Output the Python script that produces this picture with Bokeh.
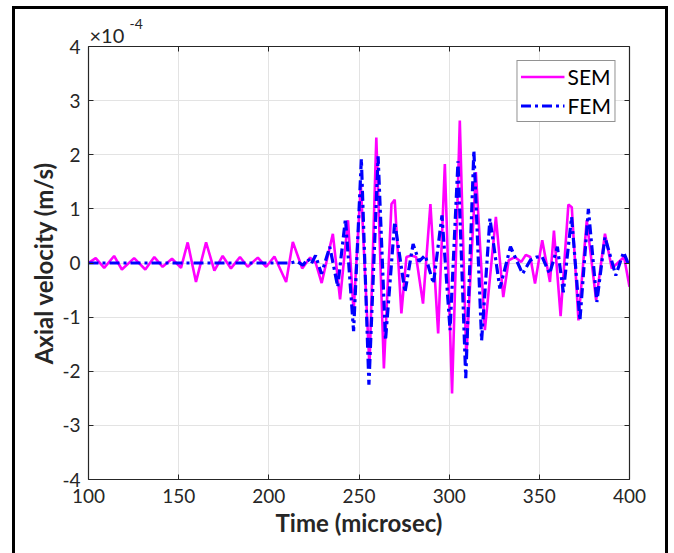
from bokeh.plotting import figure
from bokeh.models import (Range1d, LinearAxis, FixedTicker, Legend, LegendItem,
                          Title, InlineStyleSheet)
from bokeh.embed import file_html
from bokeh.resources import INLINE

# Values in units of 1e-4 m/s
sem_t = [100, 104, 108.7, 114.2, 118.5, 125.3, 131.5, 136.5, 141.1, 146.3, 151.3, 155,
         159.6, 165.2, 169.8, 174.4, 179, 184, 188.3, 193.9, 198.5, 203.1, 209.6, 213.3,
         218.5, 222.9, 226, 229.3, 235.5, 239.5, 243.9, 247, 251, 255.8, 259.6, 263.8,
         268, 269.8, 273.5, 276.3, 279, 281.7, 285.5, 289.6, 293.9, 297.6, 301.6, 305.9,
         309.5, 314.8, 319.8, 325.9, 330, 333, 336.4, 340, 342.5, 345, 347.6, 351.6,
         355.9, 358.1, 361.8, 366.1, 368, 371.7, 376.3, 381.5, 386.4, 390.2, 397, 400]
sem_v = [0.0, 0.09, -0.09, 0.13, -0.12, 0.09, -0.12, 0.11, -0.07, 0.08, -0.09, 0.38,
         -0.35, 0.38, -0.14, 0.13, -0.10, 0.11, -0.07, 0.10, -0.07, 0.12, -0.35, 0.39,
         -0.10, 0.10, 0.0, -0.37, 0.54, -0.67, 0.79, -0.90, 1.45, -1.92, 2.32, -1.95,
         1.09, 1.17, -0.93, 0.11, 0.14, 0.11, -0.75, 1.09, -1.30, 1.83, -2.41, 2.63,
         -1.75, 1.68, -1.24, 0.85, -0.63, 0.05, 0.11, 0.02, 0.15, 0.11, -0.38, 0.42,
         -0.35, 0.60, -0.98, 1.08, 1.03, -1.06, 0.79, -0.69, 0.54, -0.10, 0.11, -0.44]

fem_t = [100, 212, 215.5, 218.9, 221.7, 223.5, 225.9, 229.2, 233.8, 238.2, 242.5, 247,
         251.3, 255.5, 260.6, 264.7, 269.8, 275.5, 280, 283.3, 286.7, 291.3, 296, 300.5,
         304.9, 309.2, 313.7, 318, 322.6, 328.1, 334, 340.7, 345, 348.5, 351.5, 355.7,
         360, 363.3, 367.9, 372.5, 377.2, 381.9, 386.4, 392.4, 396.7, 400]
fem_v = [0.0, 0.0, 0.03, -0.04, 0.08, -0.02, 0.14, -0.2, 0.3, -0.44, 0.82, -1.26,
         1.92, -2.25, 1.97, -1.43, 0.76, -0.54, 0.35, 0.03, 0.14, -0.38, 0.88, -1.24,
         1.88, -2.13, 2.08, -1.43, 0.82, -0.47, 0.30, -0.2, 0.05, 0.11, 0.12, -0.2,
         0.30, -0.54, 0.85, -1.06, 1.00, -0.72, 0.48, -0.23, 0.20, -0.07]

x_ticks = [100, 150, 200, 250, 300, 350, 400]
y_ticks = [-4, -3, -2, -1, 0, 1, 2, 3, 4]
y_tick_labels = ["-4", "-3", "-2", "-1", "0", "1", "2", "3", "4"]
series_names = ["SEM", "FEM"]
x_label = "Time (microsec)"
y_label = "Axial velocity (m/s)"
exp_base = "\u00d710"
exp_power = "-4"

FONT = "Lato"
AX = "#262626"

p = figure(width=674, height=553, output_backend="svg", toolbar_location=None,
           x_range=Range1d(100, 400), y_range=Range1d(-4, 4),
           min_border_left=88, min_border_right=45, min_border_top=46,
           min_border_bottom=74)
p.xaxis.visible = False
p.yaxis.visible = False
p.outline_line_color = None
p.background_fill_color = "white"
p.border_fill_color = "white"

def style_axis(ax, labels=True):
    ax.axis_line_color = AX
    ax.axis_line_width = 1.2
    ax.major_tick_in = 5
    ax.major_tick_out = 0
    ax.major_tick_line_color = AX
    ax.minor_tick_line_color = None
    ax.major_label_text_font = FONT
    ax.major_label_text_font_size = "19px"
    ax.major_label_text_color = AX
    if not labels:
        ax.major_label_text_font_size = "1px"
        ax.major_label_text_color = None
        ax.major_label_standoff = 0

xb = LinearAxis(ticker=FixedTicker(ticks=x_ticks), axis_label=x_label)
style_axis(xb)
xb.major_label_standoff = 9
xb.axis_label_text_font = FONT
xb.axis_label_text_font_style = "bold"
xb.axis_label_text_font_size = "24px"
xb.axis_label_text_color = AX
xb.axis_label_standoff = 2
p.add_layout(xb, "below")

yl = LinearAxis(ticker=FixedTicker(ticks=y_ticks), axis_label=y_label)
style_axis(yl)
yl.major_label_overrides = {t: s for t, s in zip(y_ticks, y_tick_labels)}
yl.major_label_standoff = 8
yl.axis_label_text_font = FONT
yl.axis_label_text_font_style = "bold"
yl.axis_label_text_font_size = "24px"
yl.axis_label_text_color = AX
yl.axis_label_standoff = 1
p.add_layout(yl, "left")

xt = LinearAxis(ticker=FixedTicker(ticks=x_ticks))
style_axis(xt, labels=False)
p.add_layout(xt, "above")
yr = LinearAxis(ticker=FixedTicker(ticks=y_ticks))
style_axis(yr, labels=False)
p.add_layout(yr, "right")

# inner title: "x10", outer (figure) title: superscript "-4"
t_base = Title(text=exp_base, align="left", offset=1, standoff=0,
               text_font=FONT, text_font_size="20px", text_font_style="normal",
               text_color=AX)
p.add_layout(t_base, "above")

p.title.text = exp_power
p.title.align = "left"
p.title.offset = 41
p.title.standoff = -16
p.title.text_font = FONT
p.title.text_font_size = "14px"
p.title.text_font_style = "normal"
p.title.text_color = AX

p.xgrid.ticker = FixedTicker(ticks=x_ticks)
p.ygrid.ticker = FixedTicker(ticks=y_ticks)
p.xgrid.grid_line_color = "#e3e3e3"
p.ygrid.grid_line_color = "#e3e3e3"

r_sem = p.line(sem_t, sem_v, line_color="#ff00ff", line_width=2.6)
r_fem = p.line(fem_t, fem_v, line_color="#0000ff", line_width=3.2,
               line_dash="10 4 3 4")

legend = Legend(items=[LegendItem(label=series_names[0], renderers=[r_sem]),
                       LegendItem(label=series_names[1], renderers=[r_fem])],
                location="top_right")
legend.margin = 14
legend.padding = 3
legend.spacing = 4
legend.glyph_width = 44
legend.glyph_height = 21
legend.label_height = 21
legend.label_standoff = 3
legend.label_text_font = FONT
legend.label_text_font_size = "21px"
legend.label_text_color = "#000000"
legend.border_line_color = AX
legend.border_line_width = 1.2
legend.background_fill_color = "white"
legend.background_fill_alpha = 1
p.add_layout(legend)

css = (":host::after { content: ''; position: absolute; left: 12px; top: 6px; "
       "width: 656px; height: 600px; border: 3px solid #000; "
       "box-sizing: border-box; pointer-events: none; }")
p.stylesheets = [InlineStyleSheet(css=css)]

open("out.html", "w").write(file_html(p, INLINE))
